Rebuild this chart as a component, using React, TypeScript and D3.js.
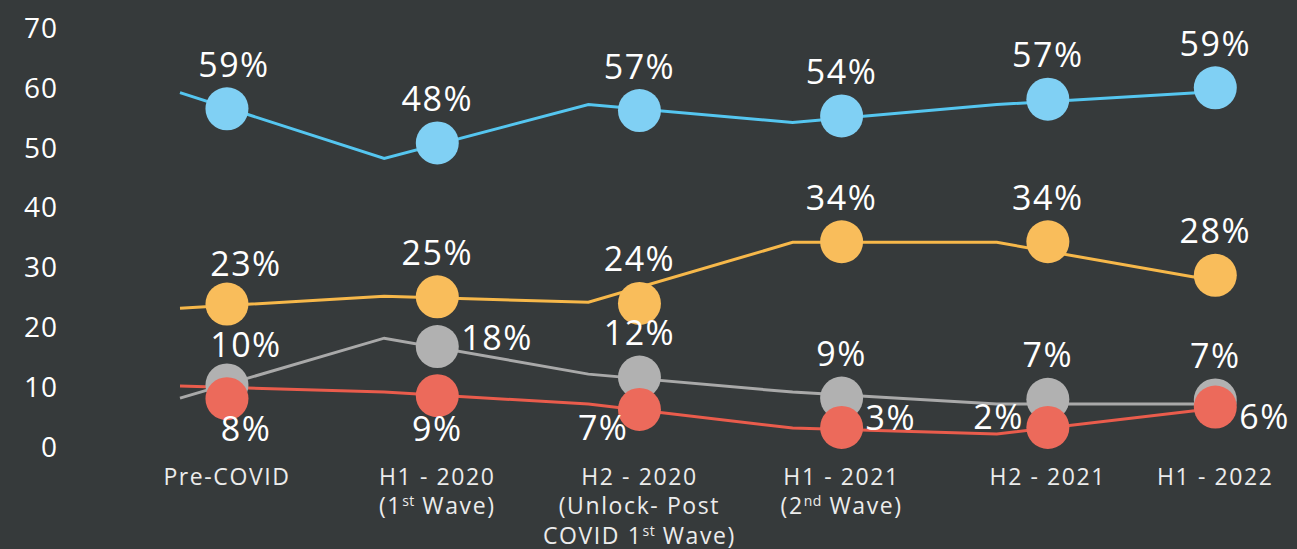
import React from "react";
import * as d3 from "d3";

// ---- data ----
const categories: string[][][] = [
  [["Pre-COVID"]],
  [["H1 - 2020"], ["(1", "^st", " Wave)"]],
  [["H2 - 2020"], ["(Unlock- Post"], ["COVID 1", "^st", " Wave)"]],
  [["H1 - 2021"], ["(2", "^nd", " Wave)"]],
  [["H2 - 2021"]],
  [["H1 - 2022"]],
];

const yTicks = [0, 10, 20, 30, 40, 50, 60, 70];

// line series (values in %)
const blueLine = [59, 48, 57, 54, 57, 59];
const orangeLine = [23, 25, 24, 34, 34, 28];
const grayLine = [8, 18, 12, 9, 7, 7];
const redLine = [10, 9, 7, 3, 2, 6];

// marker series (in the same units)
const markerPos = [0.23, 1.26, 2.25, 3.24, 4.25, 5.07];
const blueMarker = [56.3, 50.6, 56.0, 55.1, 57.9, 59.8];
const orangeMarker = [23.7, 24.9, 23.8, 34.1, 34.1, 28.5];
const grayMarker = [10.2, 16.6, 11.5, 8.0, 7.8, 7.7];
const redMarker = [7.9, 8.4, 6.1, 3.1, 3.1, 6.5];

// data labels
const blueLabels = ["59%", "48%", "57%", "54%", "57%", "59%"];
const orangeLabels = ["23%", "25%", "24%", "34%", "34%", "28%"];
const grayLabels = ["10%", "18%", "12%", "9%", "7%", "7%"];
const redLabels = ["8%", "9%", "7%", "3%", "2%", "6%"];

// label placement codes
const bluePlace = ["ts", "t", "t", "t", "t", "t"];
const orangePlace = ["tr", "t", "t", "t", "t", "t"];
const grayPlace = ["tr", "r", "t", "t", "t", "t"];
const redPlace = ["br", "b", "bl", "r", "l", "rb"];

const series = [
  { line: blueLine, marker: blueMarker, labels: blueLabels, place: bluePlace, lineColor: "#55c6f0", markerColor: "#80d0f4" },
  { line: orangeLine, marker: orangeMarker, labels: orangeLabels, place: orangePlace, lineColor: "#f7b84a", markerColor: "#f9bd5b" },
  { line: grayLine, marker: grayMarker, labels: grayLabels, place: grayPlace, lineColor: "#a9a9a9", markerColor: "#b1b1b1" },
  { line: redLine, marker: redMarker, labels: redLabels, place: redPlace, lineColor: "#ea5c4c", markerColor: "#ec6a5b" },
];

const W = 1297;
const H = 549;
const FONT = "'Open Sans', 'Noto Sans', sans-serif";

function labelPos(code: string, cx: number, cy: number) {
  switch (code) {
    case "t": return { x: cx, y: cy - 45, anchor: "middle" };
    case "ts": return { x: cx + 7, y: cy - 45, anchor: "middle" };
    case "tr": return { x: cx + 19, y: cy - 41, anchor: "middle" };
    case "b": return { x: cx, y: cy + 32, anchor: "middle" };
    case "br": return { x: cx + 19, y: cy + 29, anchor: "middle" };
    case "bl": return { x: cx - 11, y: cy + 18, anchor: "end" };
    case "r": return { x: cx + 24, y: cy - 10, anchor: "start" };
    case "rb": return { x: cx + 24, y: cy + 9, anchor: "start" };
    case "l": return { x: cx - 24, y: cy - 11, anchor: "end" };
    default: return { x: cx, y: cy, anchor: "middle" };
  }
}

export default function App() {
  const y = d3.scaleLinear().domain([0, 70]).range([446, 26.7]);
  const x = d3.scaleLinear().domain([0, 5]).range([180, 1201]);
  const line = d3
    .line<number>()
    .x((_, i) => x(i))
    .y((d) => y(d));

  return (
    <div style={{ position: "absolute", left: 0, top: 0 }}>
      <svg width={W} height={H} style={{ display: "block", fontFamily: FONT }}>
        <rect x={0} y={0} width={W} height={H} fill="#363a3b" />

        {/* y axis labels */}
        {yTicks.map((t) => (
          <text
            key={t}
            x={58}
            y={y(t)}
            textAnchor="end"
            dominantBaseline="central"
            fontSize={28}
            letterSpacing={1}
            fill="#ffffff"
          >
            {t}
          </text>
        ))}

        {/* lines */}
        {series.map((s, si) => (
          <path key={si} d={line(s.line) || ""} fill="none" stroke={s.lineColor} strokeWidth={3} strokeLinejoin="miter" />
        ))}

        {/* markers */}
        {series.map((s, si) =>
          s.marker.map((v, i) => (
            <circle key={`${si}-${i}`} cx={x(markerPos[i])} cy={y(v)} r={21.5} fill={s.markerColor} />
          ))
        )}

        {/* data labels */}
        {series.map((s, si) =>
          s.labels.map((lab, i) => {
            const p = labelPos(s.place[i], x(markerPos[i]), y(s.marker[i]));
            return (
              <text
                key={`l${si}-${i}`}
                x={p.x}
                y={p.y}
                textAnchor={p.anchor as any}
                dominantBaseline="central"
                fontSize={34}
                letterSpacing={1.5}
                fill="#ffffff"
              >
                {lab}
              </text>
            );
          })
        )}

        {/* category labels */}
        {categories.map((lines, i) => (
          <text
            key={`c${i}`}
            x={x(markerPos[i])}
            y={484.5}
            textAnchor="middle"
            fontSize={23}
            letterSpacing={1.6}
            fill="#ececec"
          >
            {lines.map((segs, li) => (
              <tspan key={li} x={x(markerPos[i])} y={484.5 + li * 29.5}>
                {segs.map((seg, k) =>
                  seg.startsWith("^") ? (
                    <tspan key={k} fontSize={14} dy={-8} letterSpacing={0.5}>
                      {seg.slice(1)}
                    </tspan>
                  ) : (
                    <tspan key={k} dy={k > 0 && segs[k - 1].startsWith("^") ? 8 : 0}>
                      {seg}
                    </tspan>
                  )
                )}
              </tspan>
            ))}
          </text>
        ))}
      </svg>
    </div>
  );
}
